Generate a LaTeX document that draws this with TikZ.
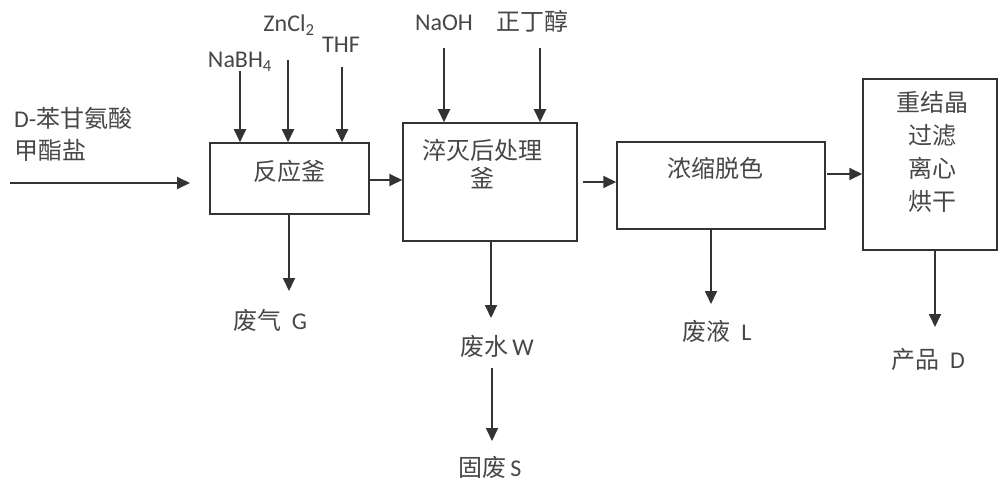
\documentclass[tikz,border=0pt]{standalone}
\usepackage{fontspec}
\setmainfont{Carlito}
\newfontfamily\cjk{Noto Sans CJK SC}
\usetikzlibrary{arrows.meta}
\begin{document}
\begin{tikzpicture}[x=1pt,y=-1pt,
  every node/.style={text=black!72,font=\fontsize{24}{28}\selectfont},
  box/.style={draw=black!80,line width=1.5pt,inner sep=0pt},
  arr/.style={draw=black!80,line width=1.8pt,-{Triangle[length=13pt,width=12pt]}},
  lab/.style={inner sep=0pt,anchor=base}]
\useasboundingbox (0,0) rectangle (998,481);
\fill[white] (0,0) rectangle (998,481);
% boxes
\node[box,minimum width=159pt,minimum height=71pt] (r1) at (289.5,178.5) {};
\node at (289.5,171) {\cjk 反应釜};
\node[box,minimum width=174pt,minimum height=118pt] (r2) at (490,182) {};
\node[align=center] at (482,164) {{\cjk 淬灭后处理}\\{\cjk 釜}};
\node[box,minimum width=208pt,minimum height=87pt] (r3) at (721,185.5) {};
\node at (715,168) {\cjk 浓缩脱色};
\node[box,minimum width=134pt,minimum height=171pt] (r4) at (930,164.5) {};
\node[align=center,font=\fontsize{24}{33}\selectfont] at (932,152) {{\cjk 重结晶}\\{\cjk 过滤}\\{\cjk 离心}\\{\cjk 烘干}};
% input
\node[align=left,anchor=west,font=\fontsize{24}{32}\selectfont,inner sep=0pt] (inp) at (14,134) {D-{\cjk 苯甘氨酸}\\{\cjk 甲酯盐}};
\coordinate (in0) at (10,183);
\coordinate (in1) at (190,183);
\draw[arr] (in0) -- (in1);
% top feeds
\node[lab] (nabh) at (240,68) {NaBH\textsubscript{4}};
\node[lab] (zncl) at (289,32) {ZnCl\textsubscript{2}};
\node[lab] (thf) at (341,53) {THF};
\draw[arr] (240,71) -- (r1.north -| 240,0);
\draw[arr] (288,60) -- (r1.north -| 288,0);
\draw[arr] (342,67) -- (r1.north -| 342,0);
\node[lab] (naoh) at (444,31) {NaOH};
\node[lab] (zdc) at (532,31) {\cjk 正丁醇};
\draw[arr] (444,48) -- (r2.north -| 444,0);
\draw[arr] (540,48) -- (r2.north -| 540,0);
% horizontal flow
\draw[arr] (r1.east |- 0,180) -- (r2.west |- 0,180);
\coordinate (a2) at (583,182);
\draw[arr] (a2) -- (r3.west |- 0,182);
\coordinate (a3) at (827,174);
\draw[arr] (a3) -- (r4.west |- 0,174);
% outputs
\node[lab] (g) at (270,329) {{\cjk 废气}\ \ G};
\draw[arr] (r1.south -| 289,0) -- (289,291);
\node[lab] (w) at (497,355) {{\cjk 废水}\,W};
\draw[arr] (r2.south -| 491,0) -- (491,318);
\node[lab] (s) at (490,476) {{\cjk 固废}\,S};
\draw[arr] (492,368) -- (492,441);
\node[lab] (l) at (717,340) {{\cjk 废液}\ \ L};
\draw[arr] (r3.south -| 711,0) -- (711,304);
\node[lab] (d) at (928,368) {{\cjk 产品}\ \ D};
\draw[arr] (r4.south -| 935,0) -- (935,327);
\end{tikzpicture}
\end{document}
